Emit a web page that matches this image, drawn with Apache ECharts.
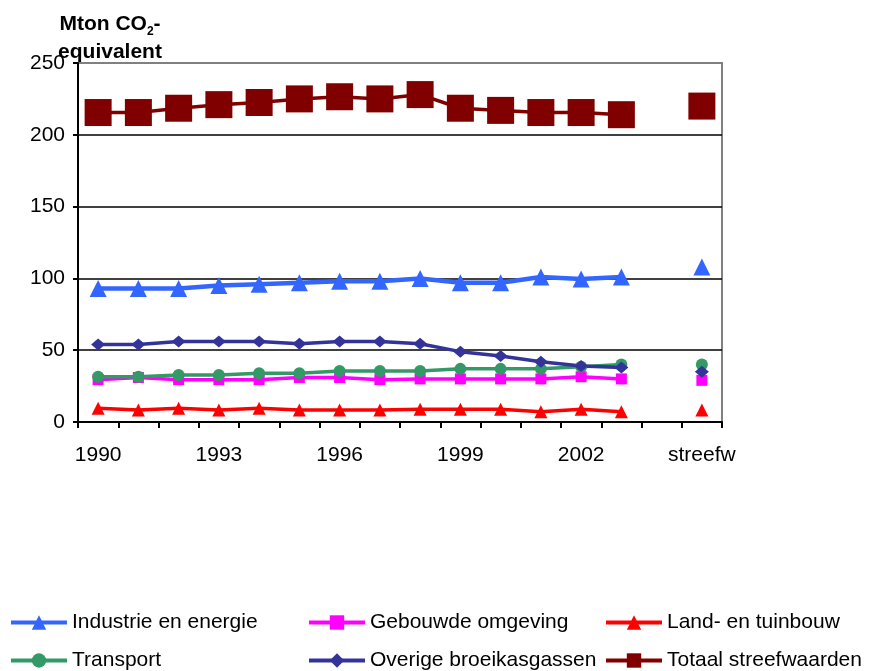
<!DOCTYPE html>
<html>
<head>
<meta charset="utf-8">
<script src="https://cdn.jsdelivr.net/npm/echarts@6/dist/echarts.min.js"></script>
<style>html,body{margin:0;padding:0;background:#fff}#c{width:869px;height:671px}</style>
</head>
<body>
<div id="c"></div>
<script>
var categories = ['1990','1991','1992','1993','1994','1995','1996','1997','1998','1999','2000','2001','2002','2003','','streefw'];
var industrie = [93, 93, 93, 95, 96, 97, 98, 98, 100, 97, 97, 101, 99.5, 101, null, 108];
var gebouwde  = [29.5, 31, 29.5, 29.5, 29.5, 31, 31, 29.5, 30, 30, 30, 30, 31.5, 30, null, 29];
var land      = [9.5, 8.4, 9.5, 8.4, 9.5, 8.4, 8.4, 8.4, 8.8, 8.8, 8.8, 7.2, 8.8, 7.2, null, 8.4];
var transport = [31.5, 31.5, 32.7, 32.7, 34, 34, 35.5, 35.5, 35.5, 37, 37, 37, 38.5, 40, null, 40];
var overige   = [54, 54, 56, 56, 56, 54.5, 56, 56, 54.5, 49, 46, 42, 39, 38, null, 35];
var totaal    = [215.5, 215.5, 218.5, 221, 222.5, 225, 226.5, 225, 228, 218.5, 217, 215.5, 215.5, 214, null, 220];
var yTicks = [0, 50, 100, 150, 200, 250];

var FONT = "'Liberation Sans', Arial, sans-serif";
function mk(name, data, color, symbol, size, width) {
  return {
    name: name, type: 'line', data: data, connectNulls: false,
    symbol: symbol, symbolSize: size, showSymbol: true, showAllSymbol: true,
    lineStyle: { color: color, width: width },
    itemStyle: { color: color },
    emphasis: { disabled: true }, animation: false
  };
}
var series = [
  mk('Industrie en energie', industrie, '#3366FF', 'triangle', 17, 4.5),
  mk('Gebouwde omgeving', gebouwde, '#FF00FF', 'rect', 11, 3.5),
  mk('Land- en tuinbouw', land, '#FF0000', 'triangle', 13, 3.5),
  mk('Transport', transport, '#339966', 'circle', 12, 3.5),
  mk('Overige broeikasgassen', overige, '#333399', 'diamond', [14, 12], 3.5),
  mk('Totaal streefwaarden', totaal, '#800000', 'rect', 27, 3.5)
];
function lg(name, left, top) {
  return {
    data: [name], left: left, top: top, orient: 'horizontal',
    itemWidth: 56, itemHeight: 18, padding: 0, selectedMode: false,
    lineStyle: { width: 4 },
    textStyle: { fontFamily: FONT, fontSize: 21, color: '#000' }
  };
}
var chart = echarts.init(document.getElementById('c'), null, { renderer: 'canvas' });
chart.setOption({
  animation: false,
  backgroundColor: '#fff',
  textStyle: { fontFamily: FONT },
  title: {
    left: 105, top: 5, textAlign: 'center',
    text: '{a|Mton CO}{s|2}{a|-}\n{a|equivalent}',
    textStyle: {
      rich: {
        a: { fontFamily: FONT, fontSize: 21, fontWeight: 'bold', color: '#000', lineHeight: 28 },
        s: { fontFamily: FONT, fontSize: 12, fontWeight: 'bold', color: '#000', lineHeight: 28, verticalAlign: 'bottom', padding: [10, 0, 0, 0] }
      }
    }
  },
  legend: [
    lg('Industrie en energie', 9, 612),
    lg('Gebouwde omgeving', 307, 612),
    lg('Land- en tuinbouw', 604, 612),
    lg('Transport', 9, 650),
    lg('Overige broeikasgassen', 307, 650),
    lg('Totaal streefwaarden', 604, 650)
  ],
  grid: { left: 78, right: 147, top: 63, bottom: 249, show: true, borderColor: '#808080', borderWidth: 2, backgroundColor: 'transparent' },
  xAxis: {
    type: 'category', data: categories, boundaryGap: true,
    axisLine: { lineStyle: { color: '#000', width: 2 } },
    axisTick: { show: true, interval: 0, length: 6, lineStyle: { color: '#000', width: 2 } },
    axisLabel: { interval: 2, margin: 23, fontFamily: FONT, fontSize: 21, color: '#000' },
    splitLine: { show: false }
  },
  yAxis: {
    type: 'value', min: yTicks[0], max: yTicks[yTicks.length - 1], interval: 50,
    axisLine: { show: true, lineStyle: { color: '#000', width: 2 } },
    axisTick: { show: true, length: 5, lineStyle: { color: '#000', width: 2 } },
    axisLabel: { margin: 13, fontFamily: FONT, fontSize: 21, color: '#000' },
    splitLine: { show: true, lineStyle: { color: ['#000', '#000', '#000', '#000', '#000', '#808080'], width: 1.5 } }
  },
  series: series
});
</script>
</body>
</html>
